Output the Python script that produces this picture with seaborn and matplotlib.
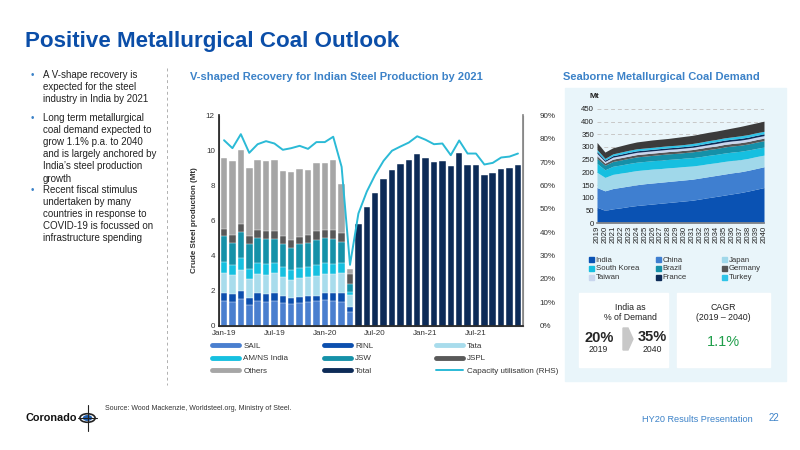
import numpy as np
import pandas as pd
import matplotlib
matplotlib.use("Agg")
import matplotlib.pyplot as plt
import matplotlib.patches as mpatches
from matplotlib.lines import Line2D
import seaborn as sns

# --- data: Indian crude steel production (Mt), Jan-19 .. Dec-21
months = pd.date_range("2019-01-01", "2021-12-01", freq="MS").strftime("%b-%y").tolist()
split_months = months[:16]          # Jan-19 .. Apr-20 split by producer
total_months = months[16:]          # May-20 .. Dec-21 total only

sail = [1.40, 1.35, 1.50, 1.20, 1.40, 1.35, 1.40, 1.30, 1.25, 1.30, 1.35, 1.40, 1.45, 1.40, 1.35, 0.80]
rinl = [0.45, 0.45, 0.45, 0.40, 0.45, 0.45, 0.45, 0.40, 0.30, 0.35, 0.35, 0.30, 0.40, 0.45, 0.50, 0.25]
tata = [1.15, 1.10, 1.25, 1.05, 1.10, 1.10, 1.15, 1.10, 1.05, 1.05, 1.10, 1.15, 1.10, 1.10, 1.15, 0.70]
amns = [0.65, 0.55, 0.65, 0.60, 0.60, 0.60, 0.55, 0.55, 0.55, 0.60, 0.55, 0.60, 0.60, 0.55, 0.55, 0.15]
jsw = [1.45, 1.25, 1.50, 1.40, 1.45, 1.45, 1.40, 1.30, 1.30, 1.35, 1.35, 1.45, 1.45, 1.45, 1.25, 0.50]
jspl = [0.40, 0.45, 0.45, 0.45, 0.45, 0.45, 0.45, 0.45, 0.45, 0.40, 0.45, 0.50, 0.45, 0.50, 0.50, 0.55]
others = [4.10, 4.25, 4.25, 3.90, 4.00, 4.00, 4.05, 3.75, 3.85, 3.90, 3.75, 3.90, 3.85, 4.00, 2.80, 0.30]
total = [5.80, 6.75, 7.60, 8.40, 8.90, 9.25, 9.45, 9.80, 9.60, 9.35, 9.40, 9.10, 9.85, 9.20, 9.20, 8.60, 8.70, 8.95, 9.00, 9.20]
cap_util = [79.4, 76.0, 82.0, 74.0, 77.7, 79.0, 78.0, 75.3, 76.0, 77.0, 75.7, 78.6,
            78.6, 80.9, 68.0, 26.0, 48.0, 57.4, 64.6, 70.6, 74.9, 76.7, 78.4, 81.1,
            79.6, 77.7, 78.0, 73.0, 79.3, 73.7, 73.7, 69.0, 69.7, 72.0, 72.4, 73.7]

# --- data: seaborne met coal demand (Mt), 2019 .. 2040
years = [str(y) for y in range(2019, 2041)]
india = [62, 50, 56, 60, 65, 69, 72, 75, 78, 81, 84, 87, 90, 95, 100, 105, 110, 115, 120, 126, 133, 140]
china = [78, 77, 80, 81, 81, 82, 83, 83, 83, 83, 83, 83, 83, 83, 83, 83, 83, 83, 82, 82, 82, 82]
japan = [60, 53, 56, 56, 56, 56, 55, 55, 54, 54, 53, 53, 52, 51, 51, 50, 50, 49, 48, 47, 47, 46]
korea = [35, 30, 32, 32, 33, 33, 33, 33, 33, 33, 33, 33, 33, 33, 33, 33, 33, 33, 33, 33, 32, 32]
brazil = [20, 18, 19, 20, 20, 21, 21, 21, 22, 22, 22, 22, 23, 23, 23, 23, 24, 24, 24, 24, 25, 25]
germany = [10, 8, 9, 9, 9, 9, 9, 9, 9, 9, 9, 9, 9, 10, 10, 10, 10, 10, 10, 10, 10, 10]
taiwan = [10, 7, 8, 8, 9, 9, 9, 9, 9, 9, 9, 9, 9, 9, 9, 10, 10, 10, 10, 10, 10, 10]
france = [7, 5, 6, 6, 6, 6, 6, 6, 6, 6, 6, 6, 6, 6, 7, 7, 7, 7, 7, 7, 7, 7]
turkey = [8, 7, 7, 8, 8, 8, 8, 8, 8, 8, 8, 8, 9, 9, 9, 9, 9, 9, 10, 10, 10, 10]
rest = [28, 25, 24, 25, 26, 27, 28, 29, 29, 29, 31, 32, 32, 33, 33, 33, 33, 35, 37, 39, 39, 40]

sns.set_theme(style="white")
plt.rcParams["font.family"] = ["Liberation Sans", "DejaVu Sans"]

BLUE_T = "#0b4ea8"
BLUE_S = "#3c82c8"


def fx(px):
    return px / 800


def fy(px):
    return 1 - px / 450


fig = plt.figure(figsize=(8, 4.5), dpi=100)
fig.patch.set_facecolor("white")

# header
fig.text(fx(25), fy(42), "Positive Metallurgical Coal Outlook", fontsize=16.1,
         fontweight="bold", color=BLUE_T, va="center")
fig.text(fx(190), fy(77), "V-shaped Recovery for Indian Steel Production by 2021",
         fontsize=8.0, fontweight="bold", color=BLUE_S, va="center")
fig.text(fx(563), fy(77), "Seaborne Metallurgical Coal Demand",
         fontsize=8.0, fontweight="bold", color=BLUE_S, va="center")

# bullets
bullets = [
    (75, ["A V-shape recovery is", "expected for the steel", "industry in India by 2021"]),
    (118, ["Long term metallurgical", "coal demand expected to", "grow 1.1% p.a. to 2040",
           "and is largely anchored by", "India\u2019s steel production", "growth"]),
    (190, ["Recent fiscal stimulus", "undertaken by many", "countries in response to",
           "COVID-19 is focussed on", "infrastructure spending"]),
]
for y0, lines in bullets:
    fig.text(fx(31), fy(y0), "\u2022", fontsize=7.0, color=BLUE_S, va="center")
    for i, ln in enumerate(lines):
        fig.text(fx(43), fy(y0 + i * 12.1), ln, fontsize=7.0, color="#222222", va="center")

fig.add_artist(Line2D([fx(167), fx(167)], [fy(68), fy(385)],
                      color="#b0b0b0", lw=0.7, ls=(0, (3, 3))))

# --- steel production chart
ax = fig.add_axes([fx(219), fy(325.5), fx(304), 210 / 450])
split_cols = [("SAIL", sail, "#4a7fcf"), ("RINL", rinl, "#0c4fae"), ("Tata", tata, "#a8dcec"),
              ("AM/NS India", amns, "#16c0e0"), ("JSW", jsw, "#1591a8"),
              ("JSPL", jspl, "#595959"), ("Others", others, "#a6a6a6")]
stack = np.cumsum([c[1] for c in split_cols], axis=0)
for k in range(len(split_cols) - 1, -1, -1):
    df = pd.DataFrame({"month": split_months, "value": stack[k]})
    sns.barplot(data=df, x="month", y="value", order=months, color=split_cols[k][2],
                saturation=1, width=0.78, ax=ax, edgecolor="white", linewidth=0.3)
df_tot = pd.DataFrame({"month": total_months, "value": total})
sns.barplot(data=df_tot, x="month", y="value", order=months, color="#0d2b57",
            saturation=1, width=0.78, ax=ax, edgecolor="white", linewidth=0.3)

ax.set_ylim(0, 12)
ax.set_xlim(-0.6, len(months) - 0.4)
ax.set_yticks(range(0, 13, 2))
ax.set_xticks(range(0, 36, 6))
ax.set_xticklabels([months[i] for i in range(0, 36, 6)])
ax.tick_params(axis="both", labelsize=5.8, colors="#333333", length=0, pad=3)
ax.set_xlabel("")
ax.set_ylabel("Crude Steel production (Mt)", fontsize=5.8, fontweight="bold", color="#333333", labelpad=6)
ax.spines["top"].set_visible(False)
for s in ["left", "right", "bottom"]:
    ax.spines[s].set_color("#888888")
    ax.spines[s].set_linewidth(0.8)

ax2 = ax.twinx()
sns.lineplot(x=np.arange(len(months)), y=cap_util, ax=ax2, color="#2bbad6", lw=1.4)
ax2.set_ylim(0, 90)
ax2.set_yticks(range(0, 91, 10))
ax2.set_yticklabels([f"{v}%" for v in range(0, 91, 10)])
ax2.tick_params(axis="y", labelsize=5.8, colors="#333333", length=0, pad=12)
ax2.spines["top"].set_visible(False)
ax2.spines["right"].set_color("#888888")
ax2.grid(False)

leg_cols = [
    (209, [("SAIL", "#4a7fcf", 3.5), ("AM/NS India", "#16c0e0", 3.5), ("Others", "#a6a6a6", 3.5)]),
    (321, [("RINL", "#0c4fae", 3.5), ("JSW", "#1591a8", 3.5), ("Total", "#0d2b57", 3.5)]),
    (433, [("Tata", "#a8dcec", 3.5), ("JSPL", "#595959", 3.5),
           ("Capacity utilisation (RHS)", "#2bbad6", 1.4)]),
]
for x0, items in leg_cols:
    fig.legend([Line2D([], [], color=c, lw=w) for _, c, w in items], [t for t, _, _ in items],
               loc="upper left", bbox_to_anchor=(fx(x0), fy(339)), frameon=False,
               fontsize=5.8, handlelength=3.35, handletextpad=0.5, labelspacing=0.6,
               borderaxespad=0, labelcolor="#333333")

# --- seaborne demand panel
fig.add_artist(mpatches.Rectangle((fx(565), fy(381)), fx(221), 293 / 450,
                                  transform=fig.transFigure, color="#e9f5fa", zorder=0))
bx = fig.add_axes([fx(597), fy(223), fx(167), 114 / 450])
bx.set_facecolor("#e9f5fa")
dem = [("India", india, "#0a52b3"), ("China", china, "#3f7fd0"), ("Japan", japan, "#a0d8ea"),
       ("South Korea", korea, "#16bfe0"), ("Brazil", brazil, "#1590a8"),
       ("Germany", germany, "#555555"), ("Taiwan", taiwan, "#c9d6ee"),
       ("France", france, "#0d2b57"), ("Turkey", turkey, "#2fc4e8"),
       ("Other", rest, "#3b3b3b")]
xs = np.arange(len(years))
bx.stackplot(xs, *[d[1] for d in dem], colors=[d[2] for d in dem], lw=0, zorder=2)
bx.set_ylim(0, 450)
bx.set_xlim(0, len(years) - 1)
bx.set_yticks(range(0, 451, 50))
bx.set_xticks(xs)
bx.set_xticklabels(years, rotation=90)
bx.tick_params(axis="both", labelsize=5.6, colors="#222222", length=0, pad=2)
bx.yaxis.grid(True, color="#c8c8c8", ls=(0, (4, 3)), lw=0.7)
bx.set_axisbelow(True)
for s in ["top", "right", "left"]:
    bx.spines[s].set_visible(False)
bx.spines["bottom"].set_color("#888888")
fig.text(fx(590), fy(97), "Mt", fontsize=6, fontweight="bold", color="#222222", va="center")

for c, x0 in enumerate([585, 652, 718]):
    items = dem[c:9:3]
    fig.legend([Line2D([], [], marker="s", ls="", color=d[2], markersize=3.6) for d in items],
               [d[0] for d in items], loc="upper left", bbox_to_anchor=(fx(x0), fy(253)),
               frameon=False, fontsize=5.6, handletextpad=0.25, labelspacing=0.18,
               handlelength=0.7, borderaxespad=0, labelcolor="#333333")

# KPI boxes
for x0, x1 in [(579, 668), (677, 770)]:
    fig.add_artist(mpatches.Rectangle((fx(x0), fy(367)), fx(x1 - x0), 74 / 450,
                                      transform=fig.transFigure, color="white", zorder=1))
fig.text(fx(630), fy(308), "India as", fontsize=6.3, ha="center", va="center", color="#222222")
fig.text(fx(630), fy(317.5), "% of Demand", fontsize=6.3, ha="center", va="center", color="#222222")
fig.text(fx(599), fy(338), "20%", fontsize=10.5, fontweight="bold", ha="center", va="center")
fig.text(fx(598), fy(350), "2019", fontsize=6.2, ha="center", va="center")
fig.text(fx(652), fy(337), "35%", fontsize=10.5, fontweight="bold", ha="center", va="center")
fig.text(fx(652), fy(350), "2040", fontsize=6.2, ha="center", va="center")
fig.add_artist(mpatches.Polygon([(fx(623), fy(328)), (fx(628), fy(328)), (fx(633), fy(339)),
                                 (fx(628), fy(350)), (fx(623), fy(350)), (fx(623), fy(339))],
                                closed=True, transform=fig.transFigure, color="#c8c8c8", zorder=2))
fig.text(fx(723), fy(308), "CAGR", fontsize=6.3, ha="center", va="center", color="#222222")
fig.text(fx(723), fy(317.5), "(2019 \u2013 2040)", fontsize=6.3, ha="center", va="center", color="#222222")
fig.text(fx(723), fy(342), "1.1%", fontsize=10.5, ha="center", va="center", color="#1f9e4a")

# footer
fig.text(fx(25), fy(418), "Coronado", fontsize=7.8, fontweight="bold", color="#111111", va="center")
fig.add_artist(mpatches.Circle((fx(87.5), fy(418)), 0.0095, transform=fig.transFigure,
                               fill=False, ec="#222222", lw=1.2))
fig.add_artist(mpatches.Circle((fx(87.5), fy(418)), 0.005, transform=fig.transFigure,
                               color="#1f5fb0"))
fig.add_artist(Line2D([fx(87.5), fx(87.5)], [fy(405), fy(431)], color="#222222", lw=0.8))
fig.add_artist(Line2D([fx(78), fx(97)], [fy(418), fy(418)], color="#222222", lw=0.8))
fig.text(fx(105), fy(408), "Source: Wood Mackenzie, Worldsteel.org, Ministry of Steel.",
         fontsize=5, color="#333333", va="center")
fig.text(fx(642), fy(419), "HY20 Results Presentation", fontsize=6.6, color=BLUE_S, va="center")
fig.text(fx(769), fy(418), "22", fontsize=7.0, color=BLUE_S, va="center")

fig.savefig("out.png", dpi=100)
